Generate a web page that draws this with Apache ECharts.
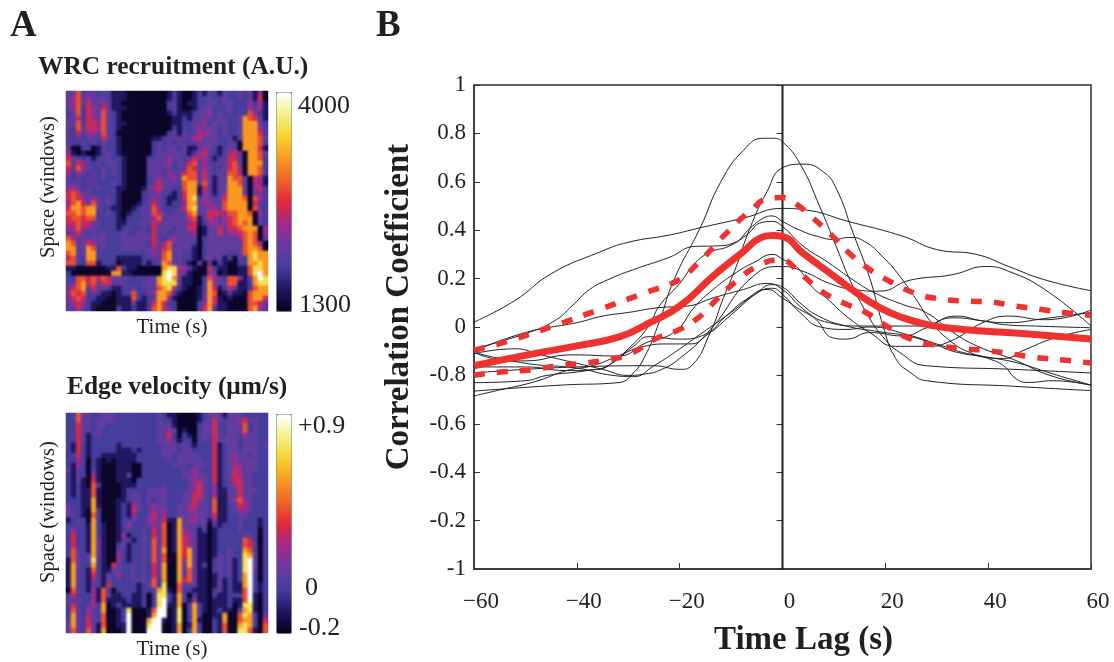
<!DOCTYPE html>
<html><head><meta charset="utf-8">
<style>html,body{margin:0;padding:0;background:#fff}#wrap{position:relative;width:1114px;height:662px}#c{width:1114px;height:662px}
.soft{position:absolute;left:66px;width:202px;height:220px;-webkit-backdrop-filter:blur(1.2px);backdrop-filter:blur(1.2px)}</style>
<script src="https://cdn.jsdelivr.net/npm/echarts@6/dist/echarts.min.js"></script>
</head><body><div id="wrap"><div id="c"></div><div class="soft" style="top:91px"></div><div class="soft" style="top:413px"></div></div>
<script>
const wrcRows = [
"3362332321 1100000000 1210012132 1322323140",
"3463433321 1100000000 1210012232 2322323150",
"3463533431 1000000000 2310112233 2332224241",
"3462543531 1100000000 2310012332 2232224341",
"2362543632 1000000000 1211123342 3232326421",
"3352543632 1000000000 0112133332 3323376531",
"3363554632 1100000000 0112233423 3322377732",
"3263554632 1000000000 0212234333 2322377742",
"3253443632 0000000000 2313234443 2322377752",
"3232332532 1000000112 3333345333 2231377763",
"3223232322 1000000232 3233233333 2232077762",
"3002201322 1000000232 3323113432 1233077751",
"4101001232 1000000233 3333124532 1345307763",
"5332312332 2100002333 4332354431 2355307762",
"6354323233 2100003333 4233563432 3356307772",
"5364322323 2100003333 3233653432 2356407762",
"4243232323 2100003332 4335663532 3366407762",
"3232332322 2100002343 3437663531 3376630541",
"3332232223 2100002353 3336773631 3377630441",
"4432323222 1100013453 3226771531 3377730452",
"5653322222 1000023342 2125771431 3477730342",
"5654343232 1000023432 1125782432 3577760642",
"4675363232 1000123532 1224773443 3677770532",
"5776773221 1001233642 2235783344 3677770632",
"6676772232 1012233653 2333673355 5466776042",
"5665662222 1022233463 3333561354 3456777032",
"5565533222 1122333543 3333451244 3456767032",
"4464433222 1232232533 3233550133 5355677704",
"3453232322 2322332533 2333340133 5344567604",
"6433333322 2333333532 3433330233 3333467603",
"7633543322 2333332534 6333320233 3333367640",
"7733762322 2333333435 6333310233 3333367760",
"6733772222 2222223436 7332210233 3322367877",
"5632772222 1111122336 7332210242 3120327877",
"6622661222 0111121237 6332103020 2100227787",
"1100000011 6211000007 8844210052 1100116887",
"2000000007 7110000008 9843100043 0100116897",
"2266565653 3322223378 9731100264 3266413798",
"3367563553 3322233378 8831100274 2366112788",
"3567353321 1223223367 8521001275 1253112677",
"4656232110 1236223477 6210001376 0121106777",
"3565221100 1116212377 4100001375 1010006775",
"3454211000 1113112575 2200002475 1100006653",
"3353210000 2112112675 3200002572 1100006743"
];
const velRows = [
"2263322333 2222222232 1100001233 3133322222",
"2263323333 2222222232 2100001235 3233453322",
"2253323322 2222222233 3100002335 2233362322",
"2253323222 2222222233 4301002335 2233362322",
"2253123222 2222222233 5202102335 3233343322",
"2253122222 2222222233 4212202325 2333233322",
"2152122222 1222222223 3323212225 1233233323",
"2152122222 1112122223 3323322225 1233233322",
"2252122111 1111222223 3233332225 1234332322",
"2242021010 1111222222 3233333225 1234333322",
"2142021000 1110022222 2333233325 1234433322",
"3132031000 1110022222 2223343225 1235433322",
"2132041000 1130022222 2223343325 1235433222",
"2131051000 1110222222 2222344325 1235533222",
"2121062000 0111222223 2222345324 1234533222",
"2121161000 0122223333 2222345324 1133533322",
"2121161000 0123323333 2223355324 1133533222",
"2221171000 1123323233 2223354326 1134643222",
"3221171000 1214323433 2233453326 1123543222",
"4221072000 1215323434 2233443326 1123443222",
"3321062000 1214223534 2233343325 1122332222",
"1232072000 1223224435 1173443314 1122322212",
"2232172100 1242223436 0173332302 1222322212",
"2422172100 1232232536 0174331201 2222322202",
"2522172100 1412232536 0174431101 2222233202",
"2522173100 1321232636 0175431101 2222265202",
"2522173100 2312232636 0175431101 2222265302",
"2632173100 3212232637 0175731101 2232276202",
"2632273100 4212232636 0075731101 3232287302",
"1632382100 4212232636 0074731102 3231289302",
"1732272105 3223232537 0073731202 3231289302",
"1732162113 3223232537 0073631102 3231289302",
"1732152132 4223232537 0073631101 3231279202",
"1732142132 2223232627 0075631101 3121279202",
"1722132152 2222123628 0063331101 3121179212",
"0632141620 2222122378 1062211102 3121169212",
"2522241631 1221120288 2172021102 1122269102",
"3332241611 1121120289 2172141101 1121169102",
"2532342701 2111120289 1170272101 1120188102",
"2632432700 1280001699 0180272101 2110378102",
"2732432600 1290001799 0180272001 1700687203",
"3732532600 1290007991 0180271002 1700677205",
"3732531600 1190008990 0170172002 1600787206",
"3632631700 0190009990 0170272002 1600886106"
];
const wrcLevels = [1350,1570,1840,2030,2330,2560,2830,3180,3560,4000];
const velLevels = [-0.18,-0.09,0.02,0.1,0.22,0.32,0.43,0.58,0.74,0.9];
const heatColors = ['#06001c','#1f1660','#463c9c','#6a3a9e','#a02a8c','#e2283a','#f0622c','#f89a22','#f7d32c','#f4f08a','#ffffff'];

// ---- panel B: thin curves as [lag, r]
const c1 = [[-60,.02],[-52,.11],[-45,.22],[-35.5,.31],[-30,.35],[-22,.38],[-16,.41],[-7.6,.45],[0,.49],[4,.485],[13,.435],[23.4,.375],[30,.32],[37.7,.30],[44,.25],[51,.195],[60,.15]];
const c2 = [[-60,-.265],[-43,-.24],[-32,-.23],[-29,-.19],[-26.5,-.11],[-24,.02],[-21,.20],[-16,.41],[-12,.60],[-7.6,.73],[-3.7,.78],[-1.8,.78],[0,.765],[3.4,.675],[7.2,.5],[10.5,.33],[13,.2],[16.3,.06],[19.5,-.04],[22.8,-.105],[28,-.16],[45,-.175],[60,-.19]];
const c3 = [[-60,-.19],[-40,-.165],[-25,-.16],[-20,-.175],[-17.7,-.16],[-14,-.02],[-11.5,.12],[-9,.25],[-6.3,.41],[-3,.56],[0,.658],[4,.673],[8,.64],[10.5,.57],[13.7,.39],[17,.2],[19.5,.01],[22,-.13],[25,-.19],[28,-.222],[45,-.245],[60,-.263]];
const c4 = [[-60,-.09],[-49,-.02],[-44,.03],[-41,.086],[-37.5,.155],[-34,.195],[-29,.237],[-22,.288],[-17,.333],[-13,.335],[-9.5,.347],[-6.3,.408],[-3.7,.45],[-2,.459],[0,.436],[3.4,.40],[6.7,.375],[10,.362],[13,.37],[16,.353],[19.5,.29],[22.8,.21],[26,.114],[29,.018],[33,-.064],[36.4,-.105],[40,-.13],[43,-.16],[45.5,-.215],[48,-.229],[52.5,-.222],[60,-.24]];
const c5 = [[-60,-.23],[-50,-.222],[-46,-.201],[-38,-.18],[-34,-.16],[-30,-.09],[-26,.004],[-24,.086],[-20,.18],[-17,.264],[-14,.31],[-10.5,.333],[-7,.38],[-4,.432],[-2,.436],[0,.415],[4,.335],[9,.265],[13.7,.195],[18,.14],[23.4,.093],[28,.059],[33,-.02],[38,-.08],[45,-.135],[52,-.2],[60,-.24]];
const c6 = [[-60,-.11],[-52,-.09],[-47,-.115],[-41,-.145],[-35,-.175],[-30,-.2],[-27,-.195],[-24,-.18],[-20,-.13],[-14,-.01],[-5.7,.21],[0,.25],[4,.23],[9.2,.18],[13.7,.155],[18.9,.148],[24.7,.193],[33,.216],[39.6,.25],[44,.23],[51,.155],[60,.004]];
const c7 = [[-60,-.105],[-55,-.135],[-50,-.14],[-41,-.115],[-32,-.12],[-26.5,-.065],[-21,-.02],[-17,.085],[-13.5,.155],[-9,.225],[-5.7,.265],[-1.8,.30],[0,.28],[2.7,.25],[6,.16],[8.5,.12],[12.4,.045],[17,-.023],[22,-.08],[28,-.08],[32.5,-.06],[39,.018],[44,.045],[51,.03],[60,.07]];
const c8 = [[-60,-.1],[-50,-.023],[-40,.018],[-35,.045],[-30,.06],[-24,.08],[-18.7,.086],[-13.5,.12],[-7.6,.155],[-3,.18],[0,.155],[3.4,.085],[6.6,.03],[9.8,-.045],[12.4,-.05],[17,-.023],[23.4,-.037],[28,-.003],[33.8,.045],[39,.025],[44,.018],[50.6,.034],[60,.06]];
const c9 = [[-60,-.165],[-50,-.165],[-42,-.18],[-36,-.175],[-32,-.13],[-29,-.08],[-26,-.04],[-20,-.05],[-15,-.03],[-11,.045],[-7,.115],[-3,.155],[0,.12],[4,.065],[9,.018],[15,.004],[20,.004],[27,.004],[33,.038],[39,.025],[43,.01],[49,.004],[60,-.003]];
const c10 = [[-60,-.285],[-55,-.26],[-48,-.225],[-42,-.18],[-37,-.16],[-32,-.12],[-27,-.08],[-22,-.07],[-18,-.07],[-14.5,-.03],[-10,.05],[-5,.14],[-2,.175],[0,.165],[3.4,.1],[7,.045],[12.4,.004],[19,-.02],[25,-.04],[30,-.075],[34,-.105],[40,-.125],[46,-.15],[52,-.19],[60,-.24]];
const c11 = [[-60,-.105],[-50,-.15],[-40,-.17],[-33,-.2],[-29,-.205],[-25,-.16],[-21,-.105],[-16,-.03],[-10,.06],[-5,.14],[-2,.16],[0,.135],[3.4,.06],[7.4,0],[12.4,-.01],[17,0],[24,-.03],[30,-.07],[36,-.11],[43,-.13],[47,-.095],[53,-.045],[60,-.01]];
const thinCurves = [c1,c2,c3,c4,c5,c6,c7,c8,c9,c10,c11];
const meanCurve = [[-60,-.16],[-49.8,-.116],[-40,-.078],[-31.6,-.04],[-25.8,.018],[-20,.086],[-13.5,.21],[-7.6,.312],[-4.4,.367],[-1.8,.378],[0,.374],[4,.305],[9.2,.223],[14.4,.141],[18.9,.08],[23.4,.038],[28.6,.008],[35,-.01],[46,-.026],[60,-.05]];
const upperCurve = [[-60,-.096],[-53.7,-.06],[-44.6,.004],[-35.5,.073],[-26.4,.144],[-20.6,.19],[-16.7,.258],[-10.9,.388],[-6.4,.477],[-2.5,.532],[0,.535],[2,.518],[6,.449],[9.8,.374],[13,.305],[17,.237],[21.5,.182],[26,.138],[30.5,.116],[35.7,.107],[40,.104],[45.4,.086],[50,.073],[55,.059],[60,.048]];
const lowerCurve = [[-60,-.199],[-54.3,-.185],[-48.8,-.177],[-43.9,-.16],[-38.8,-.15],[-34.2,-.136],[-29.7,-.112],[-24.8,-.05],[-20.6,-.016],[-16.4,.038],[-12.8,.114],[-9,.189],[-5,.25],[-0.5,.278],[3.7,.216],[7.6,.148],[11.8,.1],[16.3,.059],[20.5,.001],[25,-.05],[29.6,-.075],[34.8,-.089],[39.6,-.097],[44.8,-.112],[49.3,-.126],[54.5,-.136],[60,-.149]];
const zeroLine = [[0,-1],[0,1]];
// tick labels exactly as printed in the figure, bottom to top
const yTickLabels = ['-1','-0.2','-0.4','-0.6','-0.8','0','0.2','0.4','0.6','0.8','1'];

const SERIF = '"Liberation Serif","Times New Roman",serif';
const INK = '#231f20';
function cells(rows, levels){
  const out=[];
  rows.forEach((r,y)=>{ r.replace(/ /g,'').split('').forEach((d,x)=>{ out.push([x,y,levels[+d]]); }); });
  return out;
}
const idx = n => Array.from({length:n},(_,i)=>i);
function hmX(gi){return {type:'category',gridIndex:gi,data:idx(40),axisLine:{show:false},axisTick:{show:false},axisLabel:{show:false},splitLine:{show:false},
  name:'Time (s)',nameLocation:'middle',nameGap:6,nameTextStyle:{fontFamily:SERIF,fontSize:21,color:INK,verticalAlign:'top',padding:[0,0,0,10]}};}
function hmY(gi,shift){return {type:'category',gridIndex:gi,inverse:true,data:idx(44),axisLine:{show:false},axisTick:{show:false},axisLabel:{show:false},splitLine:{show:false},
  name:'Space (windows)',nameLocation:'middle',nameGap:7,nameTextStyle:{fontFamily:SERIF,fontSize:20.5,color:INK,padding:[0,0,0,shift]}};}
function hmS(gi,data){return {type:'heatmap',xAxisIndex:gi,yAxisIndex:gi,data:data,progressive:0,animation:false,emphasis:{disabled:true},itemStyle:{borderWidth:0}};}
function vm(si,min,max,top){return {type:'continuous',seriesIndex:si,dimension:2,min,max,calculable:false,left:276,top,itemWidth:15,itemHeight:219,padding:0,borderColor:'#8a8a8a',borderWidth:1,text:null,showLabel:false,inRange:{color:heatColors},hoverLink:false,realtime:false};}
function lab(t,x,y){return {type:'text',left:x,top:y-11,silent:true,style:{text:t,fontFamily:SERIF,fontSize:26,fill:INK}};}
function titleAt(t,x,y,size){return {text:t,left:x,top:y,padding:0,textStyle:{fontFamily:SERIF,fontWeight:'bold',fontSize:size,color:INK}};}

const smooth = {showSymbol:false,smooth:0.5};
const lineSeries = thinCurves.map(d=>Object.assign({type:'line',xAxisIndex:2,yAxisIndex:2,data:d,z:2,lineStyle:{color:'#222',width:1}},smooth));
lineSeries.push({type:'line',xAxisIndex:2,yAxisIndex:2,data:zeroLine,showSymbol:false,z:3,lineStyle:{color:'#222',width:2}});
lineSeries.push(Object.assign({type:'line',xAxisIndex:2,yAxisIndex:2,data:meanCurve,z:5,lineStyle:{color:'#ee3230',width:7}},smooth));
[upperCurve,lowerCurve].forEach(d=>lineSeries.push(Object.assign({type:'line',xAxisIndex:2,yAxisIndex:2,data:d,z:4,lineStyle:{color:'#ee3230',width:5.5,type:[11,12]}},smooth)));

const chart = echarts.init(document.getElementById('c'),null,{renderer:'canvas'});
chart.setOption({
  animation:false,
  backgroundColor:'#fff',
  title:[
    titleAt('A',10,8,37), titleAt('B',376,8,37),
    titleAt('WRC recruitment (A.U.)',38,55,25.4),
    titleAt('Edge velocity (μm/s)',67,375,25.4)
  ],
  grid:[
    {left:66,top:91,width:202,height:220},
    {left:66,top:413,width:202,height:220},
    {left:474,top:85,width:617,height:486,show:true,borderColor:'#333',borderWidth:1.5,backgroundColor:'transparent'}
  ],
  xAxis:[hmX(0),hmX(1),
    {type:'value',gridIndex:2,min:-60,max:60,interval:20,splitLine:{show:false},
     axisLine:{onZero:false,lineStyle:{color:'#333',width:1.5}},axisTick:{inside:true,length:6,lineStyle:{color:'#333'}},
     axisLabel:{fontFamily:SERIF,fontSize:23,color:INK,margin:21,padding:[0,0,0,14],showMinLabel:true,showMaxLabel:true,hideOverlap:false,formatter:v=>String(v).replace('-','\u2212')},
     name:'Time Lag (s)',nameLocation:'middle',nameGap:55,nameTextStyle:{fontFamily:SERIF,fontSize:33,fontWeight:'bold',color:INK,padding:[0,0,0,42]}}
  ],
  yAxis:[hmY(0,28),hmY(1,22),
    {type:'value',gridIndex:2,min:-1,max:1,interval:0.2,splitLine:{show:false},
     axisLine:{onZero:false,lineStyle:{color:'#333',width:1.5}},axisTick:{inside:true,length:6,lineStyle:{color:'#333'}},
     axisLabel:{fontFamily:SERIF,fontSize:23,color:INK,margin:8,formatter:(v,i)=>yTickLabels[i]},
     name:'Correlation Coefficient',nameLocation:'middle',nameGap:58,nameTextStyle:{fontFamily:SERIF,fontSize:33,fontWeight:'bold',color:INK,padding:[0,0,0,40]}},
    {type:'value',gridIndex:2,position:'right',min:-1,max:1,interval:0.2,splitLine:{show:false},
     axisLine:{show:false},axisTick:{inside:true,length:6,lineStyle:{color:'#333'}},axisLabel:{show:false}}
  ],
  visualMap:[vm(0,1300,4000,92),vm(1,-0.2,0.9,414)],
  series:[hmS(0,cells(wrcRows,wrcLevels)),hmS(1,cells(velRows,velLevels))].concat(lineSeries),
  graphic:[
    lab('4000',298,104),lab('1300',299,303),
    lab('+0.9',298,424),lab('0',305,586),lab('-0.2',299,626)
  ]
});
</script></body></html>
